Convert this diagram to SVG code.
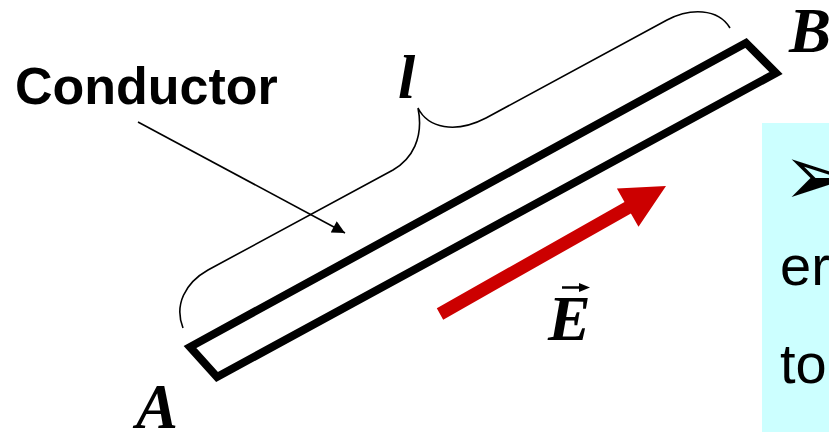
<svg xmlns="http://www.w3.org/2000/svg" width="829" height="432" viewBox="0 0 829 432">
  <style>
    .math { font-family: "Liberation Serif", "Times New Roman", serif; font-weight: bold; font-style: italic; fill: #000; }
    .sans { font-family: "Liberation Sans", Arial, sans-serif; fill: #000; }
    .thin { fill: none; stroke: #000; stroke-width: 1.6; }
  </style>
  <defs>
    <marker id="arrowBlack" viewBox="0 0 10 10" refX="10" refY="5" markerWidth="11" markerHeight="8" markerUnits="strokeWidth" orient="auto">
      <path d="M0,0 L10,5 L0,10 Z" fill="#000"/>
    </marker>
  </defs>
  <rect x="0" y="0" width="829" height="432" fill="#fff"/>

  <g id="note-box">
    <rect x="762" y="123" width="67" height="309" fill="#CCFFFF"/>
    <text x="782" y="205" font-family="DejaVu Sans, sans-serif" font-size="86" fill="#000">➢</text>
    <text x="780" y="285" class="sans" font-size="56">er</text>
    <text x="780" y="383" class="sans" font-size="56">to</text>
  </g>

  <g id="conductor">
    <polygon points="190,347 217,377 776,73 746,43" fill="none" stroke="#000" stroke-width="8" stroke-linejoin="miter"/>
  </g>

  <g id="length-brace">
    <path class="thin" d="M183,328 C174,305 185,283 208,270 L393,170 C412,159 424,138 418,108 C428,128 455,134 486,118 L667,20 C690,8 718,8 730,28"/>
    <text x="398" y="98" class="math" font-size="62">l</text>
  </g>

  <g id="label-conductor">
    <text x="15" y="104" class="sans" font-size="52" font-weight="bold">Conductor</text>
  </g>

  <g id="label-A">
    <text x="136" y="428" class="math" font-size="63">A</text>
  </g>
  <g id="label-B">
    <text x="789" y="52" class="math" font-size="63">B</text>
  </g>

  <g id="field-E">
    <polygon points="443.2,319.7 630.9,213.4 638.5,226.8 666,186 616.9,188.6 624.5,202 436.8,308.3" fill="#CC0000"/>
    <text x="548" y="340" class="math" font-size="64">E</text>
    <line x1="562" y1="287.5" x2="582" y2="287.5" stroke="#000" stroke-width="2.5"/>
    <polygon points="579,283 590,287.5 579,292" fill="#000"/>
  </g>

  <g id="connectors">
    <line x1="138" y1="122" x2="345" y2="233" stroke="#000" stroke-width="1.6" marker-end="url(#arrowBlack)"/>
  </g>
</svg>
